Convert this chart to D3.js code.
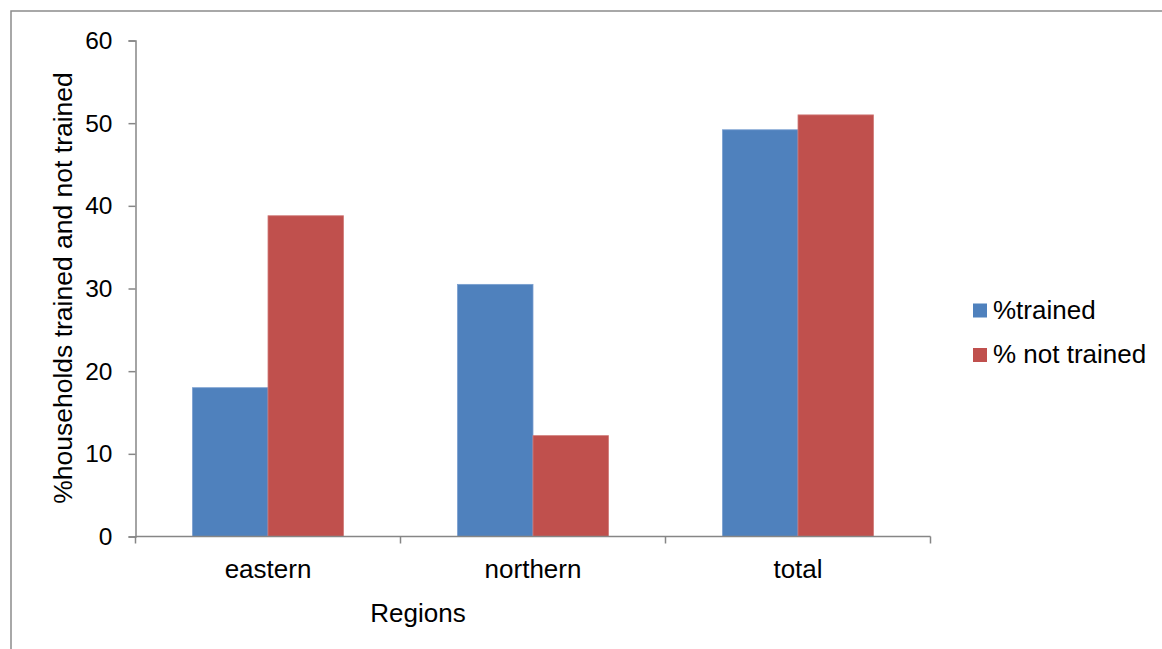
<!DOCTYPE html>
<html><head><meta charset="utf-8">
<script src="https://cdn.jsdelivr.net/npm/d3@7"></script>
<style>
html,body{margin:0;padding:0;background:#fff;}
svg{display:block;font-family:"Liberation Sans",Arial,sans-serif;}
</style></head>
<body>
<svg id="chart" width="1162" height="649"></svg>
<script>
const categories = ["eastern", "northern", "total"];
const seriesNames = ["%trained", "% not trained"];
const trained = [18.0, 30.5, 49.2];
const notTrained = [38.8, 12.2, 51.0];
const yTicks = [0, 10, 20, 30, 40, 50, 60];
const colors = ["#4F81BD", "#C0504D"];

const svg = d3.select("#chart");
svg.append("rect").attr("x", 11).attr("y", 11).attr("width", 1200).attr("height", 700)
  .attr("fill", "#fff").attr("stroke", "#8c8c8c").attr("stroke-width", 1.5);

const x0 = d3.scaleBand().domain(categories).range([135.5, 930.5]).paddingInner(0.43).paddingOuter(0.215);
const x1 = d3.scaleBand().domain(seriesNames).range([0, x0.bandwidth()]);
const y = d3.scaleLinear().domain([0, 60]).range([536.5, 40.5]);

const data = categories.map((c, i) => ({cat: c, vals: [trained[i], notTrained[i]]}));

const g = svg.append("g");
g.selectAll("g.grp").data(data).join("g").attr("class", "grp")
  .attr("transform", d => `translate(${x0(d.cat)},0)`)
  .selectAll("rect").data(d => d.vals.map((v, j) => ({v, j})))
  .join("rect")
  .attr("x", d => x1(seriesNames[d.j]))
  .attr("y", d => y(d.v))
  .attr("width", x1.bandwidth())
  .attr("height", d => y(0) - y(d.v))
  .attr("fill", d => colors[d.j])
  .attr("stroke", d => d.j === 0 ? "#7a9fd0" : "#d07a78")
  .attr("stroke-width", 0.8);

// Y axis
const yAxis = d3.axisLeft(y).tickValues(yTicks).tickSize(7).tickPadding(16);
const ya = svg.append("g").attr("transform", "translate(135.5,0)").call(yAxis);
ya.select(".domain").attr("stroke", "#868686").attr("stroke-width", 1.5);
ya.selectAll(".tick line").attr("stroke", "#868686").attr("stroke-width", 1.5);
ya.selectAll(".tick text").attr("font-size", 24.5).attr("fill", "#000").attr("font-family", "Liberation Sans, Arial, sans-serif");

// X axis: ticks at category boundaries
const xa = svg.append("g").attr("transform", "translate(0,536.5)");
xa.append("line").attr("x1", 135.5).attr("x2", 930.5).attr("stroke", "#868686").attr("stroke-width", 1.5);
const edges = [135.5].concat(categories.map((c, i) => 135.5 + (i + 1) * (930.5 - 135.5) / categories.length));
xa.selectAll("line.tk").data(edges).join("line").attr("class", "tk")
  .attr("x1", d => d).attr("x2", d => d).attr("y1", 0).attr("y2", 7)
  .attr("stroke", "#868686").attr("stroke-width", 1.5);
xa.selectAll("text").data(categories).join("text")
  .attr("x", d => x0(d) + x0.bandwidth() / 2).attr("y", 41)
  .attr("text-anchor", "middle").attr("font-size", 26).attr("fill", "#000").text(d => d);

// Axis titles
svg.append("text").attr("x", 418).attr("y", 622).attr("text-anchor", "middle")
  .attr("font-size", 26).attr("fill", "#000").text("Regions");
svg.append("text").attr("transform", "translate(72,288) rotate(-90)").attr("text-anchor", "middle")
  .attr("font-size", 26.5).attr("fill", "#000").text("%households trained and not trained");

// Legend
const leg = svg.append("g");
seriesNames.forEach((s, i) => {
  const yy = 303.5 + i * 44.5;
  leg.append("rect").attr("x", 973).attr("y", yy).attr("width", 14).attr("height", 14).attr("fill", colors[i]);
  leg.append("text").attr("x", 993).attr("y", yy + 15).attr("font-size", 26).attr("fill", "#000").text(s);
});
</script>
</body></html>
